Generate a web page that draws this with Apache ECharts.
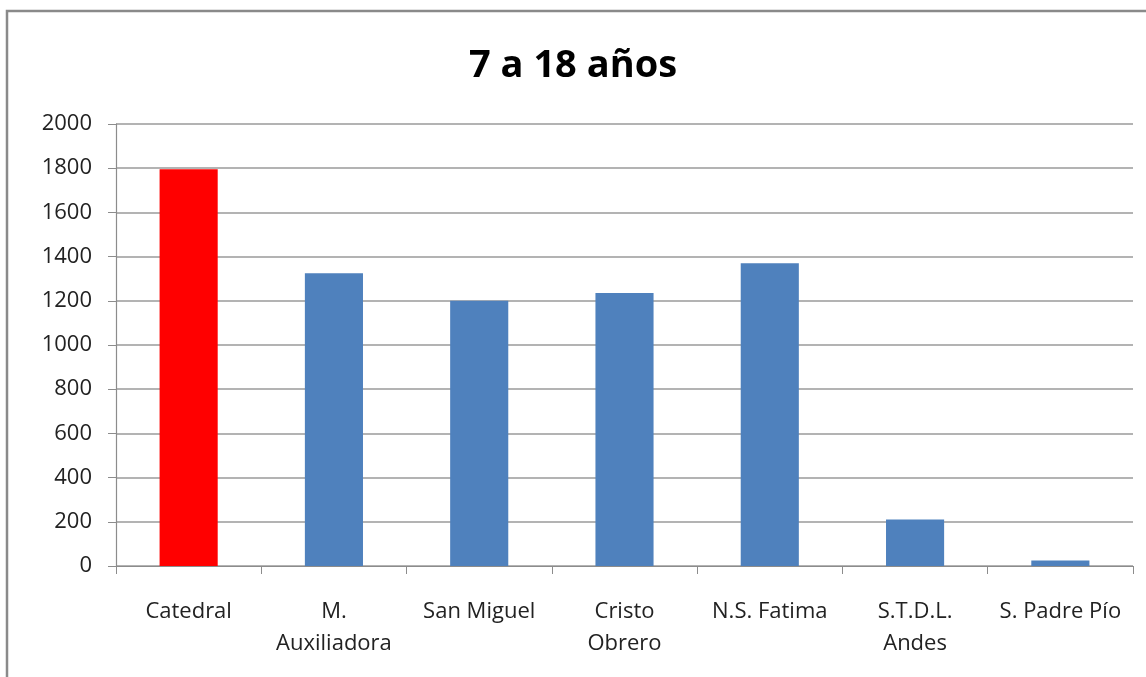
<!DOCTYPE html>
<html>
<head>
<meta charset="utf-8">
<script src="https://cdn.jsdelivr.net/npm/echarts@6/dist/echarts.min.js"></script>
<style>
html,body{margin:0;padding:0;background:#fff;}
#chart{width:1146px;height:677px;}
</style>
</head>
<body>
<div id="chart"></div>
<script>
const title = '7 a 18 años';
const categories = ['Catedral', 'M.\nAuxiliadora', 'San Miguel', 'Cristo\nObrero', 'N.S. Fatima', 'S.T.D.L.\nAndes', 'S. Padre Pío'];
const values = [1795, 1325, 1200, 1235, 1370, 210, 25];
const highlighted = ['Catedral'];
const yTicks = [0, 200, 400, 600, 800, 1000, 1200, 1400, 1600, 1800, 2000];

const FONT = '"Open Sans", "Noto Sans", sans-serif';
const chart = echarts.init(document.getElementById('chart'), null, {renderer: 'canvas'});
const data = values.map((v, i) => ({
  value: v,
  itemStyle: {color: highlighted.includes(categories[i]) ? '#FF0000' : '#4F81BD'}
}));
chart.setOption({
  backgroundColor: '#ffffff',
  animation: false,
  title: {
    text: title,
    left: 'center',
    top: 42,
    textStyle: {fontFamily: FONT, fontSize: 38, fontWeight: 'bold', color: '#000'}
  },
  graphic: [{
    type: 'rect',
    shape: {x: 7, y: 11, width: 1200, height: 800},
    style: {fill: 'none', stroke: '#8a8a8a', lineWidth: 2.5},
    silent: true
  }],
  grid: {left: 116, right: 13, top: 124, bottom: 111, containLabel: false},
  xAxis: {
    type: 'category',
    data: categories,
    axisLine: {lineStyle: {color: '#8c8c8c', width: 1.2}},
    axisTick: {show: true, length: 8, lineStyle: {color: '#8c8c8c'}},
    axisLabel: {fontFamily: FONT, fontSize: 22, color: '#222', margin: 30, lineHeight: 32, interval: 0}
  },
  yAxis: {
    type: 'value',
    min: yTicks[0],
    max: yTicks[yTicks.length - 1],
    interval: yTicks[1] - yTicks[0],
    axisLine: {show: true, lineStyle: {color: '#8c8c8c', width: 1.2}},
    axisTick: {show: true, length: 8, lineStyle: {color: '#8c8c8c'}},
    axisLabel: {fontFamily: FONT, fontSize: 22, color: '#222', margin: 24, formatter: v => String(v)},
    splitLine: {lineStyle: {color: '#9a9a9a', width: 1.5}}
  },
  series: [{
    type: 'bar',
    data: data,
    barWidth: '40%'
  }]
});
</script>
</body>
</html>
